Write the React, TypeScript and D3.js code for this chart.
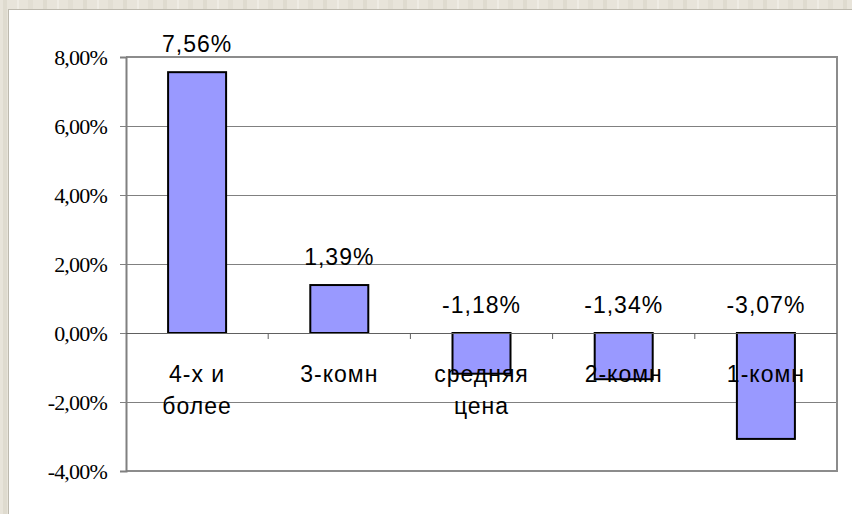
import React, { useEffect, useRef } from "react";
import * as d3 from "d3";

// categories and values (percent change)
const categories = [["4-х и", "более"], ["3-комн"], ["средняя", "цена"], ["2-комн"], ["1-комн"]];
const values = [7.56, 1.39, -1.18, -1.34, -3.07];
const yTicks = [-4, -2, 0, 2, 4, 6, 8];

const fmt = (v: number) => v.toFixed(2).replace(".", ",") + "%";

export default function App() {
  const ref = useRef<SVGSVGElement>(null);

  useEffect(() => {
    const width = 852;
    const height = 514;
    const margin = { top: 57, right: 15, bottom: 43, left: 126 };

    const svg = d3.select(ref.current);
    svg.selectAll("*").remove();

    // textured backdrop
    const defs = svg.append("defs");
    const pat = defs
      .append("pattern")
      .attr("id", "tex")
      .attr("width", 40)
      .attr("height", 12)
      .attr("patternUnits", "userSpaceOnUse");
    pat.append("rect").attr("width", 40).attr("height", 12).attr("fill", "#e8e4da");
    pat.append("rect").attr("x", 3).attr("width", 4).attr("height", 12).attr("fill", "#dfdbcf");
    pat.append("rect").attr("x", 17).attr("width", 2).attr("height", 12).attr("fill", "#efece4");
    pat.append("rect").attr("x", 28).attr("width", 5).attr("height", 12).attr("fill", "#e2ded3");

    svg.append("rect").attr("width", width).attr("height", height).attr("fill", "url(#tex)");
    svg
      .append("rect")
      .attr("x", 8.5)
      .attr("y", 9.5)
      .attr("width", width)
      .attr("height", height)
      .attr("fill", "#fff")
      .attr("stroke", "#bdb9ae");

    const x = d3
      .scaleBand<number>()
      .domain(d3.range(values.length))
      .range([margin.left, width - margin.right]);

    const y = d3
      .scaleLinear()
      .domain([-4, 8])
      .range([height - margin.bottom, margin.top]);

    const x0 = margin.left;
    const x1 = width - margin.right;

    // gridlines
    svg
      .append("g")
      .selectAll("line")
      .data(yTicks.filter((t) => t !== -4 && t !== 8 && t !== 0))
      .join("line")
      .attr("x1", x0)
      .attr("x2", x1)
      .attr("y1", (d) => Math.round(y(d)) + 0.5)
      .attr("y2", (d) => Math.round(y(d)) + 0.5)
      .attr("stroke", "#808080");

    // plot border (top, right, bottom)
    svg
      .append("path")
      .attr("d", `M${x0},${y(8)}H${x1}V${y(-4)}H${x0}`)
      .attr("fill", "none")
      .attr("stroke", "#8c8c8c")
      .attr("stroke-width", 2);

    // y axis (line + ticks)
    const yAxis = svg
      .append("g")
      .attr("transform", `translate(${x0},0)`)
      .call(d3.axisLeft(y).tickValues(yTicks).tickSize(6).tickFormat(() => ""));
    yAxis.select(".domain").attr("stroke", "#808080").attr("stroke-width", 2);
    yAxis.selectAll(".tick line").attr("stroke", "#808080");

    // y tick labels, serif like the original
    svg
      .append("g")
      .selectAll("text")
      .data(yTicks)
      .join("text")
      .attr("x", x0 - 19)
      .attr("y", (d) => y(d) + 8)
      .attr("text-anchor", "end")
      .style("font-family", '"Times New Roman", "Liberation Serif", "DejaVu Serif", serif')
      .style("font-size", "22px")
      .style("letter-spacing", "-0.8px")
      .attr("fill", "#000")
      .text((d) => fmt(d));

    // bars
    const bw = 58;
    svg
      .append("g")
      .selectAll("rect")
      .data(values)
      .join("rect")
      .attr("x", (_, i) => x(i)! + x.bandwidth() / 2 - bw / 2)
      .attr("y", (d) => y(Math.max(0, d)))
      .attr("width", bw)
      .attr("height", (d) => Math.abs(y(d) - y(0)))
      .attr("fill", "#9999ff")
      .attr("stroke", "#000")
      .attr("stroke-width", 2);

    // zero axis with ticks at band edges
    svg
      .append("line")
      .attr("x1", x0)
      .attr("x2", x1)
      .attr("y1", Math.round(y(0)) + 0.5)
      .attr("y2", Math.round(y(0)) + 0.5)
      .attr("stroke", "#606060");
    svg
      .append("g")
      .selectAll("line")
      .data(d3.range(1, values.length))
      .join("line")
      .attr("x1", (i) => x(i)!)
      .attr("x2", (i) => x(i)!)
      .attr("y1", y(0))
      .attr("y2", y(0) + 6)
      .attr("stroke", "#606060");

    const sans = "Liberation Sans, Arial, sans-serif";

    // value labels
    svg
      .append("g")
      .selectAll("text")
      .data(values)
      .join("text")
      .attr("x", (_, i) => x(i)! + x.bandwidth() / 2)
      .attr("y", (d) => y(Math.max(0, d)) - 20)
      .attr("text-anchor", "middle")
      .attr("font-family", sans)
      .attr("font-size", 23)
      .attr("letter-spacing", 1)
      .text((d) => fmt(d));

    // category labels
    const cat = svg
      .append("g")
      .selectAll("text")
      .data(categories)
      .join("text")
      .attr("x", (_, i) => x(i)! + x.bandwidth() / 2)
      .attr("y", y(0) + 49)
      .attr("text-anchor", "middle")
      .attr("font-family", sans)
      .attr("font-size", 23)
      .attr("letter-spacing", 1);
    cat
      .selectAll("tspan")
      .data((d) => d)
      .join("tspan")
      .attr("x", function () {
        return (this.parentNode as SVGTextElement).getAttribute("x");
      })
      .attr("dy", (_, j) => (j === 0 ? 0 : 32))
      .text((d) => d);
  }, []);

  return (
    <svg
      ref={ref}
      width={852}
      height={514}
      style={{ position: "absolute", left: 0, top: 0 }}
    />
  );
}
